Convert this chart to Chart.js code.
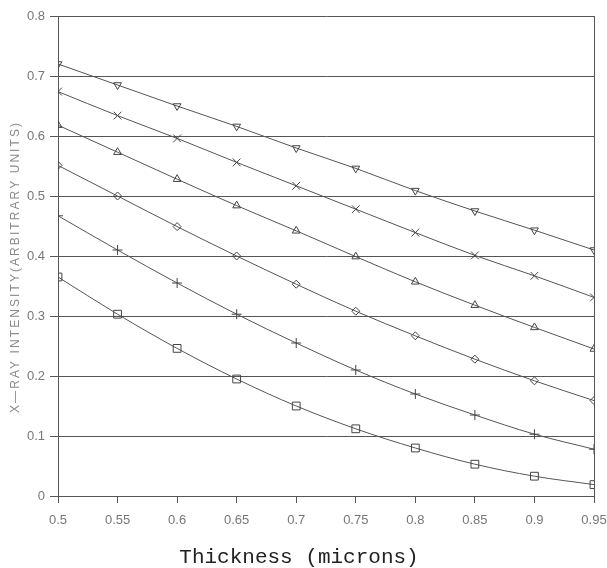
<!DOCTYPE html>
<html>
<head>
<meta charset="utf-8">
<script src="https://cdn.jsdelivr.net/npm/chart.js@4/dist/chart.umd.min.js"></script>
<style>
  html, body { margin: 0; padding: 0; background: #fff; }
  #wrap { width: 607px; height: 568px; }
</style>
</head>
<body>
<div id="wrap"><canvas id="chart"></canvas></div>
<script>
// thickness values (microns) along the x axis
const thickness = [0.5, 0.55, 0.6, 0.65, 0.7, 0.75, 0.8, 0.85, 0.9, 0.95];

// x-ray intensity curves, top to bottom
const seriesDownTri = [0.72, 0.685, 0.65, 0.616, 0.58, 0.546, 0.509, 0.475, 0.443, 0.41];
const seriesX       = [0.674, 0.634, 0.596, 0.556, 0.517, 0.478, 0.439, 0.401, 0.367, 0.331];
const seriesTri     = [0.618, 0.573, 0.528, 0.484, 0.442, 0.399, 0.357, 0.318, 0.281, 0.245];
const seriesDiamond = [0.551, 0.5, 0.449, 0.4, 0.353, 0.308, 0.267, 0.228, 0.192, 0.159];
const seriesPlus    = [0.467, 0.41, 0.355, 0.303, 0.255, 0.21, 0.17, 0.135, 0.103, 0.078];
const seriesSquare  = [0.365, 0.303, 0.246, 0.195, 0.15, 0.112, 0.08, 0.053, 0.033, 0.019];

const yTicks = [0, 0.1, 0.2, 0.3, 0.4, 0.5, 0.6, 0.7, 0.8];

const xTitle = 'Thickness (microns)';
const yTitle = 'X\u2014RAY INTENSITY(ARBITRARY UNITS)';

const toPts = arr => arr.map((y, i) => ({ x: thickness[i], y }));

const lineColor = '#555';
const mk = (label, data, style, radius, rotation = 0) => ({
  label,
  data: toPts(data),
  borderColor: lineColor,
  borderWidth: 1,
  backgroundColor: '#fff',
  pointStyle: style,
  pointRadius: radius,
  pointRotation: rotation,
  pointBorderColor: '#444',
  pointBorderWidth: 1,
  pointBackgroundColor: 'rgba(255,255,255,0)',
  cubicInterpolationMode: 'monotone',
  fill: false
});

const fmt = v => Number(Number(v).toFixed(2)).toString();

// spaced-out rotated y title, like the plotter lettering
const yTitlePlugin = {
  id: 'yTitle',
  afterDraw(chart) {
    const { ctx, chartArea } = chart;
    const span = 290;
    ctx.save();
    ctx.font = '12px "Liberation Sans"';
    const w = ctx.measureText(yTitle).width;
    const gap = Math.max(0, (span - w) / (yTitle.length - 1));
    ctx.letterSpacing = gap.toFixed(2) + 'px';
    ctx.translate(16, (chartArea.top + chartArea.bottom) / 2 + 12);
    ctx.rotate(-Math.PI / 2);
    ctx.fillStyle = '#8a8a8a';
    ctx.textAlign = 'center';
    ctx.textBaseline = 'middle';
    ctx.fillText(yTitle, gap / 2, 0);
    ctx.restore();
  }
};

new Chart(document.getElementById('chart').getContext('2d'), {
  type: 'line',
  data: {
    datasets: [
      mk('down triangle', seriesDownTri, 'triangle', 4.5, 180),
      mk('cross', seriesX, 'crossRot', 5.5),
      mk('triangle', seriesTri, 'triangle', 4.5),
      mk('diamond', seriesDiamond, 'rectRot', 4),
      mk('plus', seriesPlus, 'cross', 5),
      mk('square', seriesSquare, 'rect', 5.5)
    ]
  },
  plugins: [yTitlePlugin],
  options: {
    responsive: true,
    maintainAspectRatio: false,
    animation: false,
    layout: { padding: { top: 16, right: 9, left: 0, bottom: 0 } },
    plugins: {
      legend: { display: false },
      tooltip: { enabled: false },
      title: {
        display: true,
        position: 'bottom',
        text: xTitle,
        color: '#222',
        font: { family: 'Liberation Mono', size: 21, weight: 'normal', lineHeight: 1 },
        padding: { top: 0, bottom: 0 }
      }
    },
    scales: {
      x: {
        type: 'linear',
        min: 0.5,
        max: 0.95,
        ticks: {
          stepSize: 0.05,
          color: '#777',
          font: { family: 'Liberation Sans', size: 13 },
          padding: 10,
          maxRotation: 0,
          callback: v => fmt(v)
        },
        grid: {
          drawOnChartArea: true,
          color: ctx => (ctx.index === thickness.length - 1 ? lineColor : 'rgba(0,0,0,0)'),
          tickColor: lineColor,
          tickLength: 7,
          lineWidth: 1
        },
        border: { display: true, color: lineColor },
        afterFit: s => {
          s.height = 51;
          s.paddingRight = 13;
          s.paddingLeft = 0;
        }
      },
      y: {
        min: 0,
        max: 0.8,
        afterBuildTicks: s => { s.ticks = yTicks.map(v => ({ value: v })); },
        ticks: {
          color: '#777',
          font: { family: 'Liberation Sans', size: 13 },
          padding: 5,
          callback: v => fmt(v)
        },
        grid: {
          color: lineColor,
          tickColor: lineColor,
          tickLength: 8,
          lineWidth: 1
        },
        border: { display: true, color: lineColor },
        afterFit: s => { s.width = 58; }
      }
    }
  }
});
</script>
</body>
</html>
